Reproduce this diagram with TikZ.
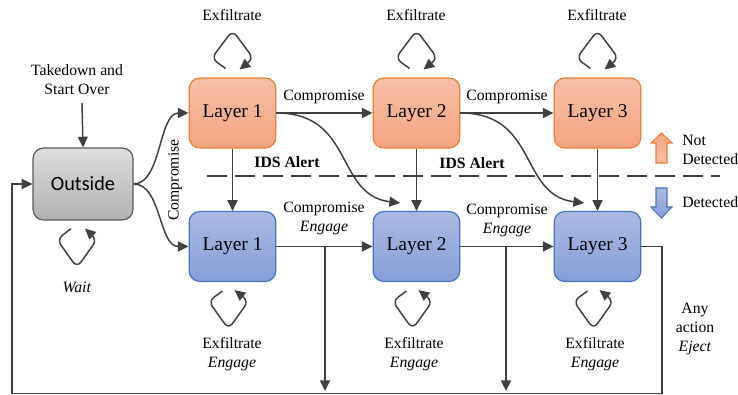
\documentclass[tikz,border=0pt]{standalone}
\usepackage{fontspec}
\setmainfont{Liberation Serif}
\newfontfamily\calibrifont{Carlito}
\usetikzlibrary{arrows.meta}

\definecolor{linegray}{RGB}{64,64,64}
\definecolor{orangetop}{RGB}{246,192,168}
\definecolor{orangebot}{RGB}{244,164,128}
\definecolor{orangeline}{RGB}{237,125,49}
\definecolor{bluetop}{RGB}{172,186,226}
\definecolor{bluebot}{RGB}{134,158,216}
\definecolor{blueline}{RGB}{68,114,196}
\definecolor{graytop}{RGB}{222,222,222}
\definecolor{graybot}{RGB}{176,176,176}
\definecolor{grayline}{RGB}{90,90,90}

\tikzset{
	layerbox/.style={rounded corners=8pt, minimum width=65pt, minimum height=52.5pt, line width=0.9pt, font=\fontsize{14.6}{17}\selectfont},
	orangebox/.style={layerbox, draw=orangeline, top color=orangetop, bottom color=orangebot},
	bluebox/.style={layerbox, draw=blueline, top color=bluetop, bottom color=bluebot},
	graybox/.style={layerbox, minimum width=75pt, minimum height=54pt, draw=grayline, top color=graytop, bottom color=graybot, font=\calibrifont\fontsize{15.2}{18}\selectfont},
	lbl/.style={font=\fontsize{11.8}{14.25}\selectfont, align=center, inner sep=0pt},
	boldlbl/.style={lbl, font=\bfseries\fontsize{11.8}{14.25}\selectfont},
	flow/.style={draw=linegray, line width=1.1pt, -{Triangle[length=8pt,width=7.5pt]}},
	selfloop/.style={flow, rounded corners=5pt},
	idsline/.style={draw=linegray, line width=2pt, dash pattern=on 15pt off 6pt},
}

\begin{document}
\begin{tikzpicture}[x=0.75pt, y=-0.75pt]
	\useasboundingbox (0,0) rectangle (738,395);
	
	% states
	\node[graybox] (out) at (83,184) {Outside};
	\node[orangebox] (t1) at (232.5,113) {Layer 1};
	\node[orangebox] (t2) at (416.5,113) {Layer 2};
	\node[orangebox] (t3) at (597.5,113) {Layer 3};
	\node[bluebox] (b1) at (232.5,246.5) {Layer 1};
	\node[bluebox] (b2) at (416.5,246.5) {Layer 2};
	\node[bluebox] (b3) at (597.5,246.5) {Layer 3};
	
	% free ends
	\coordinate (tdtop) at (82,103);
	\coordinate (c2) at (400,203);
	\coordinate (c3) at (584,203);
	\coordinate (d1) at (325,391);
	\coordinate (d2) at (506,391);
	\coordinate (rb) at (662,393.5);
	\coordinate (lb) at (12,393.5);
	\coordinate (idsl) at (207,176);
	\coordinate (idsr) at (720,176);
	
	% detection line
	\draw[idsline] (idsl) -- (idsr);
	\node[boldlbl] (ids1) at (287,162) {IDS Alert};
	\node[boldlbl] (ids2) at (472,163) {IDS Alert};
	
	% outside
	\node[lbl] (takedown) at (77,79.5) {Takedown and\\Start Over};
	\draw[flow] (tdtop) -- (out.north);
	\draw[flow] (out.east) .. controls +(28,0) and +(-30,0) .. (t1.west);
	\draw[flow] (out.east) .. controls +(28,0) and +(-30,0) .. (b1.west);
	\node[lbl, rotate=90] (comp0) at (175,180) {Compromise};
	\draw[selfloop] (out.south) ++(-12,8) -- ++(-14,11) -- ++(20,28) -- ++(20,-28) -- ++(-12,-11);
	\node[lbl] (wait) at (77,287) {\textit{Wait}};
	
	% not detected
	\draw[flow] (t1) -- (t2);
	\draw[flow] (t2) -- (t3);
	\node[lbl] (tc1) at (324,97) {Compromise};
	\node[lbl] (tc2) at (507,97) {Compromise};
	\draw[flow] (t1) -- (b1);
	\draw[flow] (t2) -- (b2);
	\draw[flow] (t3) -- (b3);
	\draw[flow] (t1.east) .. controls +(78,0) and +(-65,-8) .. (c2);
	\draw[flow] (t2.east) .. controls +(78,0) and +(-65,-8) .. (c3);
	
	\draw[selfloop] (t1.north) ++(-7,-9) -- ++(-14,-10) -- ++(21,-28) -- ++(21,28) -- ++(-14,11);
	\draw[selfloop] (t2.north) ++(-7,-9) -- ++(-14,-10) -- ++(21,-28) -- ++(21,28) -- ++(-14,11);
	\draw[selfloop] (t3.north) ++(-7,-9) -- ++(-14,-10) -- ++(21,-28) -- ++(21,28) -- ++(-14,11);
	\node[lbl] (tx1) at (232,15) {Exfiltrate};
	\node[lbl] (tx2) at (416,15) {Exfiltrate};
	\node[lbl] (tx3) at (597,15) {Exfiltrate};
	
	% detected
	\draw[flow] (b1) -- (b2);
	\draw[flow] (b2) -- (b3);
	\node[lbl] (bc1) at (324,218.5) {Compromise\\\textit{Engage}};
	\node[lbl] (bc2) at (507,220) {Compromise\\\textit{Engage}};
	\draw[flow] (b1.east -| d1) -- (d1);
	\draw[flow] (b2.east -| d2) -- (d2);
	\draw[flow] (b3.east) -| (rb) -- (lb) |- (out.west);
	\node[lbl] (eject) at (695,329) {Any\\action\\\textit{Eject}};
	
	\draw[selfloop] (b1.south) ++(-10,9) -- ++(-14,10) -- ++(20,28) -- ++(20,-28) -- ++(-14,-11);
	\draw[selfloop] (b2.south) ++(-10,9) -- ++(-14,10) -- ++(20,28) -- ++(20,-28) -- ++(-14,-11);
	\draw[selfloop] (b3.south) ++(-10,9) -- ++(-14,10) -- ++(20,28) -- ++(20,-28) -- ++(-14,-11);
	\node[lbl] (bx1) at (232,354.5) {Exfiltrate\\\textit{Engage}};
	\node[lbl] (bx2) at (414,354.5) {Exfiltrate\\\textit{Engage}};
	\node[lbl] (bx3) at (595,354.5) {Exfiltrate\\\textit{Engage}};
	
	% legend
	\draw[orangeline, line width=0.8pt, top color=orangebot, bottom color=orangetop] (656,163) -- (656,143) -- (651,143) -- (661.5,133) -- (672,143) -- (667,143) -- (667,163) -- cycle;
	\draw[blueline, line width=0.8pt, top color=bluetop, bottom color=bluebot] (656,188) -- (656,207) -- (651,207) -- (661.5,218) -- (672,207) -- (667,207) -- (667,188) -- cycle;
	\node[lbl, anchor=west, align=left] (notdet) at (682,150) {Not\\Detected};
	\node[lbl, anchor=west] (det) at (682,202) {Detected};
\end{tikzpicture}
\end{document}
